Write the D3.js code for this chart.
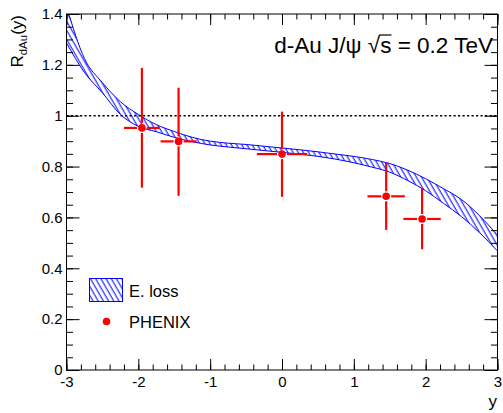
<!DOCTYPE html>
<html><head><meta charset="utf-8">
<script src="https://cdn.jsdelivr.net/npm/d3@7"></script>
<style>body{margin:0;background:#fff}svg{display:block}text{font-family:"Liberation Sans",Arial,Helvetica,sans-serif}</style>
</head><body>
<script>
// ----- data -----
const bandX    = [-3.00,-2.75,-2.50,-2.25,-2.00,-1.75,-1.50,-1.25,-1.00,-0.75,-0.50,-0.25,0.00,0.25,0.50,0.75,1.00,1.25,1.50,1.75,2.00,2.25,2.50,2.75,3.00];
const bandHigh = [1.43,1.225,1.13,1.055,1.005,0.965,0.938,0.915,0.900,0.892,0.887,0.880,0.873,0.866,0.858,0.849,0.840,0.828,0.812,0.786,0.752,0.713,0.670,0.607,0.530];
const bandLow  = [1.286,1.17,1.09,1.005,0.958,0.937,0.915,0.898,0.885,0.877,0.870,0.863,0.856,0.849,0.840,0.829,0.815,0.798,0.778,0.745,0.705,0.655,0.603,0.540,0.468];
const ptX    = [-1.95,-1.44,0.00,1.45,1.95];
const ptY    = [0.952,0.899,0.849,0.683,0.594];
const ptXErr = [0.25,0.25,0.35,0.26,0.26];
const ptYHi  = [1.188,1.110,1.016,0.815,0.714];
const ptYLo  = [0.717,0.685,0.681,0.551,0.475];
const xTicks = [-3,-2,-1,0,1,2,3];
const yTicks = [0,0.2,0.4,0.6,0.8,1,1.2,1.4];
const legendLabels = ["E. loss","PHENIX"];

const W=503,H=413;
const L=66.5,R=497.5,T=14,B=370;
const x=d3.scaleLinear().domain([-3,3]).range([L,R]);
const y=d3.scaleLinear().domain([0,1.4]).range([B,T]);
const blue="#0000ff", red="#ff0000";

const svg=d3.select("body").append("svg").attr("width",W).attr("height",H);
const defs=svg.append("defs");
defs.append("clipPath").attr("id","clip").append("rect").attr("x",L).attr("y",T).attr("width",R-L).attr("height",B-T);
const pat=defs.append("pattern").attr("id","hatch").attr("patternUnits","userSpaceOnUse")
  .attr("width",4.5).attr("height",10).attr("patternTransform","rotate(-30)");
pat.append("line").attr("x1",2).attr("y1",-1).attr("x2",2).attr("y2",11).attr("stroke",blue).attr("stroke-width",1);

const band=bandX.map((v,i)=>({x:v,lo:bandLow[i],hi:bandHigh[i]}));
const g=svg.append("g").attr("clip-path","url(#clip)");
g.append("path").datum(band).attr("fill","url(#hatch)")
  .attr("d",d3.area().x(d=>x(d.x)).y0(d=>y(d.lo)).y1(d=>y(d.hi)).curve(d3.curveMonotoneX));
g.append("path").datum(band).attr("fill","none").attr("stroke",blue).attr("stroke-width",1)
  .attr("d",d3.line().x(d=>x(d.x)).y(d=>y(d.hi)).curve(d3.curveMonotoneX));
g.append("path").datum(band).attr("fill","none").attr("stroke",blue).attr("stroke-width",1)
  .attr("d",d3.line().x(d=>x(d.x)).y(d=>y(d.lo)).curve(d3.curveMonotoneX));

// dotted line at 1
svg.append("line").attr("x1",x(-3)).attr("x2",x(3)).attr("y1",y(1)).attr("y2",y(1))
  .attr("stroke","#000").attr("stroke-width",1.6).attr("stroke-dasharray","2.2,2.3");

// axes
function styleAxis(sel){sel.select(".domain").remove();sel.selectAll("line").attr("stroke","#000");
  sel.selectAll("text").attr("font-size",15).attr("fill","#000").attr("font-family","'Liberation Sans',Arial,sans-serif");}
const xMinor=d3.range(-3,3.0001,0.2);
const yMinor=d3.range(0,1.4001,0.05);
svg.append("g").attr("transform",`translate(0,${B})`).call(d3.axisBottom(x).tickValues(xMinor).tickSize(-5.5).tickFormat("")).call(styleAxis);
svg.append("g").attr("transform",`translate(0,${B})`).call(d3.axisBottom(x).tickValues(xTicks).tickSize(-11).tickPadding(6).tickFormat(d=>String(d))).call(styleAxis);
svg.append("g").attr("transform",`translate(0,${T})`).call(d3.axisTop(x).tickValues(xMinor).tickSize(-5.5).tickFormat("")).call(styleAxis);
svg.append("g").attr("transform",`translate(0,${T})`).call(d3.axisTop(x).tickValues(xTicks).tickSize(-11).tickFormat("")).call(styleAxis);
svg.append("g").attr("transform",`translate(${L},0)`).call(d3.axisLeft(y).tickValues(yMinor).tickSize(-6.5).tickFormat("")).call(styleAxis);
svg.append("g").attr("transform",`translate(${L},0)`).call(d3.axisLeft(y).tickValues(yTicks).tickSize(-13).tickPadding(4).tickFormat(d=>String(+d.toFixed(1)))).call(styleAxis);
svg.append("g").attr("transform",`translate(${R},0)`).call(d3.axisRight(y).tickValues(yMinor).tickSize(-6.5).tickFormat("")).call(styleAxis);
svg.append("g").attr("transform",`translate(${R},0)`).call(d3.axisRight(y).tickValues(yTicks).tickSize(-13).tickFormat("")).call(styleAxis);
svg.append("rect").attr("x",L).attr("y",T).attr("width",R-L).attr("height",B-T).attr("fill","none").attr("stroke","#000").attr("stroke-width",1);

// points with error bars (gap around marker)
const gap=5;
const pg=svg.append("g");
ptX.forEach((px,i)=>{
  const cx=x(px), cy=y(ptY[i]);
  const segs=[[x(px-ptXErr[i]),cy,cx-gap,cy],[cx+gap,cy,x(px+ptXErr[i]),cy],[cx,y(ptYHi[i]),cx,cy-gap],[cx,cy+gap,cx,y(ptYLo[i])]];
  segs.forEach(s=>pg.append("line").attr("x1",s[0]).attr("y1",s[1]).attr("x2",s[2]).attr("y2",s[3]).attr("stroke",red).attr("stroke-width",2.2));
  pg.append("circle").attr("cx",cx).attr("cy",cy).attr("r",3.8).attr("fill",red);
});

// header text
const ht=svg.append("text").attr("x",493).attr("y",53).attr("text-anchor","end").attr("font-size",22.5).attr("fill","#000");
ht.append("tspan").text("d-Au J/\u03c8 ");
ht.append("tspan").text("\u221a");
ht.append("tspan").text("s");
ht.append("tspan").text(" = 0.2 TeV");
const full=ht.text(); const si=full.indexOf("\u221a")+1;
const ext=ht.node().getExtentOfChar(si);
const ext0=ht.node().getExtentOfChar(si-1);
svg.append("line").attr("x1",ext0.x+ext0.width-1).attr("x2",ext.x+ext.width).attr("y1",ext0.y+2).attr("y2",ext0.y+2).attr("stroke","#000").attr("stroke-width",1.2);

// axis titles
const yt=svg.append("text").attr("transform","translate(23,15) rotate(-90)").attr("text-anchor","end").attr("font-size",17).attr("fill","#000");
yt.append("tspan").text("R");
yt.append("tspan").attr("font-size",11.5).attr("dy",4).text("dAu");
yt.append("tspan").attr("dy",-4).text("(y)");
svg.append("text").attr("x",497).attr("y",407).attr("text-anchor","end").attr("font-size",17).text("y");

// legend
svg.append("rect").attr("x",89.5).attr("y",278.5).attr("width",33).attr("height",23).attr("fill","url(#hatch)").attr("stroke",blue).attr("stroke-width",1);
svg.append("text").attr("x",129).attr("y",297).attr("font-size",16.5).text(legendLabels[0]);
svg.append("circle").attr("cx",106.5).attr("cy",321.5).attr("r",3.8).attr("fill",red);
svg.append("text").attr("x",129).attr("y",327.5).attr("font-size",16.5).text(legendLabels[1]);
</script>
</body></html>
